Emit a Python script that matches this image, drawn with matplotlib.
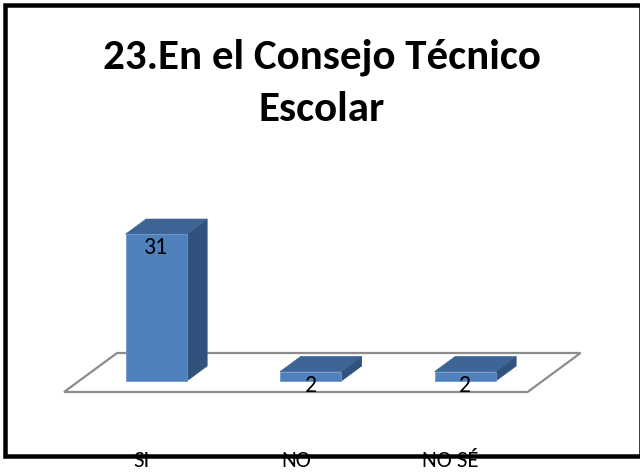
import matplotlib
matplotlib.use("Agg")
import matplotlib.pyplot as plt
from matplotlib.patches import Polygon, Rectangle
from matplotlib.transforms import IdentityTransform
import numpy as np

categories = ["SI", "NO", "NO SÉ"]
values = [31, 2, 2]
title_lines = ["23.En el Consejo Técnico", "Escolar"]

W, H = 640, 472
fig = plt.figure(figsize=(W / 100, H / 100), dpi=100)
fig.patch.set_facecolor("white")
ax = fig.add_axes([0, 0, 1, 1])
ax.set_axis_off()

FONT = ["Carlito", "Lato", "DejaVu Sans"]

# scale: pixel per category unit and per value unit
px_x = 154.5
px_v = 4.74
x0_px = 141.3          # pixel x of first category centre on the floor front edge
base_px = 392          # pixel y (from top) of floor front edge
ax.set_xlim((0 - x0_px) / px_x, (W - x0_px) / px_x)
ax.set_ylim((base_px - H) / px_v, base_px / px_v)

# depth vector of floor (pixels) -> data units
depth_dx = 53 / px_x
depth_dv = 39 / px_v

def P(x, v, d):
    return (x + d * depth_dx, v + d * depth_dv)

n = len(categories)
# floor
floor = [P(-0.5, 0, 0), P(n - 0.5, 0, 0), P(n - 0.5, 0, 1), P(-0.5, 0, 1)]
ax.add_patch(Polygon(floor, closed=True, facecolor="white", edgecolor="#8c8c8c",
                     lw=1.6, zorder=1))

bw = 61 / px_x
d0, d1 = 0.28, 0.667
front_c = "#4F81BD"
top_c = "#3C6494"
side_c = "#31527C"
for i, v in enumerate(values):
    xl, xr = i - bw / 2, i + bw / 2
    front = [P(xl, 0, d0), P(xr, 0, d0), P(xr, v, d0), P(xl, v, d0)]
    top = [P(xl, v, d0), P(xr, v, d0), P(xr, v, d1), P(xl, v, d1)]
    side = [P(xr, 0, d0), P(xr, 0, d1), P(xr, v, d1), P(xr, v, d0)]
    ax.add_patch(Polygon(side, closed=True, facecolor=side_c, edgecolor=side_c, lw=0.5, zorder=3))
    ax.add_patch(Polygon(top, closed=True, facecolor=top_c, edgecolor=top_c, lw=0.5, zorder=3))
    ax.add_patch(Polygon(front, closed=True, facecolor=front_c, edgecolor="#6f97c9", lw=0.6, zorder=4))
    lx, ly = P(i, v, d0)
    ax.annotate(str(v), (lx, ly), xytext=(0, -3), textcoords="offset pixels",
                ha="center", va="top", fontsize=17, family=FONT,
                color="black", zorder=6)

# category labels
for i, c in enumerate(categories):
    ax.annotate(c, (i, 0), xytext=(0, -(451 - base_px)), textcoords="offset pixels",
                ha="center", va="top", fontsize=16.5, family=FONT,
                color="black", zorder=6, annotation_clip=False)

# title
fig.text(322 / W, 1 - 68 / H, title_lines[0], ha="center", va="baseline",
         fontsize=31, fontweight="bold", family=FONT)
fig.text(322 / W, 1 - 121 / H, title_lines[1], ha="center", va="baseline",
         fontsize=31, fontweight="bold", family=FONT)

# border (pixel coordinates)
border = Rectangle((4.5, H - 456), 641 - 4.5, 456 - 4.5, transform=IdentityTransform(),
                   fill=False, edgecolor="black", lw=4.5 * 72 / 100, zorder=10)
fig.patches.append(border)

fig.savefig("out.png", dpi=100, facecolor="white")
